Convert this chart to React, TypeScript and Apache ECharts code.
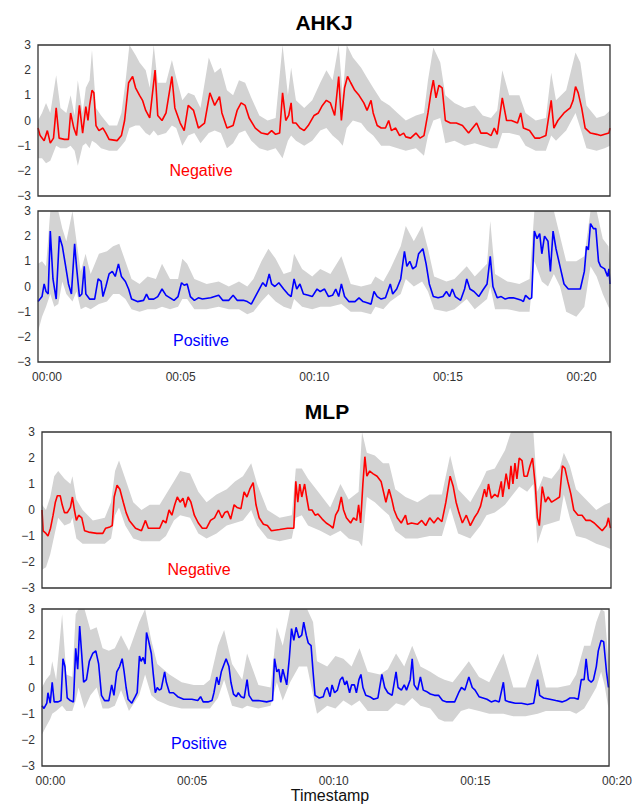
import React, { useEffect, useRef } from "react";
import * as echarts from "echarts";

// Times (minutes) were read relative to the printed "00:00" label; the
// plotted frame starts a little before it, so each panel has its own start.
const ahkjStart = -0.34;
const mlpStart = -0.3;

// ---------- AHKJ · Negative ----------
const ahkjNegT = [
  -0.34, -0.26, -0.11, 0.01, 0.12, 0.24, 0.34, 0.45, 0.65, 0.8,
  0.88, 1.0, 1.1, 1.21, 1.33, 1.45, 1.53, 1.59, 1.68, 1.75,
  1.83, 1.94, 2.09, 2.2, 2.32, 2.62, 2.78, 2.9, 3.05, 3.2,
  3.31, 3.46, 3.57, 3.69, 3.84, 4.04, 4.14, 4.3, 4.45, 4.67,
  4.78, 4.98, 5.13, 5.28, 5.48, 5.66, 5.89, 6.09, 6.27, 6.45,
  6.54, 6.73, 6.96, 7.11, 7.26, 7.41, 7.56, 7.79, 8.02, 8.25,
  8.4, 8.55, 8.7, 8.81, 8.93, 9.04, 9.13, 9.19, 9.31, 9.46,
  9.62, 9.77, 9.99, 10.15, 10.3, 10.45, 10.6, 10.76, 10.91, 11.01,
  11.13, 11.24, 11.36, 11.51, 11.67, 11.85, 11.97, 12.12, 12.2, 12.35,
  12.5, 12.66, 12.78, 12.88, 13.04, 13.19, 13.34, 13.42, 13.6, 13.8,
  13.95, 14.1, 14.25, 14.36, 14.45, 14.55, 14.66, 14.78, 14.9, 15.09,
  15.31, 15.54, 15.77, 15.92, 16.07, 16.23, 16.46, 16.61, 16.73, 16.84,
  17.03, 17.19, 17.37, 17.6, 17.72, 17.82, 18.05, 18.25, 18.43, 18.66,
  18.86, 18.96, 19.11, 19.34, 19.57, 19.68, 19.77, 19.87, 20.0, 20.13,
  20.33, 20.56, 20.71, 20.86, 21.02, 21.06,
];
const ahkjNegV = [
  -0.3, -0.6, -0.8, -0.4, -0.9, -0.7, 0.5, -0.7, -0.75, -0.75,
  0.3, -0.3, -0.6, 0.6, -0.5, 0.55, 0.0, 0.6, 1.2, 1.1,
  -0.2, -0.4, -0.3, -0.5, -0.75, -0.8, -0.6, 0.0, 1.5, 1.75,
  1.3, 1.0, 0.8, 0.4, 0.1, 2.0, 0.2, 0.0, 0.3, 1.75,
  0.5, -0.1, -0.4, 0.6, 0.4, -0.3, -0.1, 1.1, 0.6, 0.95,
  0.3, -0.3, -0.2, 0.4, 0.7, 0.6, 0.1, -0.3, -0.5, -0.55,
  -0.4, -0.55, -0.5, 1.1, 0.0, 0.2, 0.7, -0.1, -0.1, -0.3,
  -0.4, -0.2, 0.2, 0.3, 0.6, 0.8, 0.7, 0.2, 1.75, 0.0,
  1.3, 1.75, 1.5, 1.2, 1.0, 0.7, 0.4, 0.8, 0.3, -0.2,
  -0.3, -0.3, 0.0, -0.4, -0.3, -0.6, -0.5, -0.65, -0.7, -0.5,
  -0.7, -0.6, 0.3, 1.1, 1.6, 0.9, 1.4, 1.3, 0.0, -0.1,
  -0.1, -0.2, -0.5, -0.3, -0.1, -0.5, -0.5, -0.6, -0.3, -0.55,
  0.9, 0.0, 0.0, -0.1, 0.3, -0.3, -0.4, -0.7, -0.7, -0.6,
  0.8, -0.3, 0.0, 0.3, 0.5, 0.8, 1.35, 1.1, 0.5, -0.3,
  -0.5, -0.55, -0.6, -0.55, -0.5, -0.3,
];
const ahkjNegBandT = [
  -0.34, -0.19, -0.04, 0.12, 0.34, 0.5, 0.72, 0.88, 1.03, 1.15,
  1.33, 1.45, 1.59, 1.68, 1.83, 2.02, 2.32, 2.62, 2.78, 2.93,
  3.08, 3.31, 3.46, 3.69, 3.84, 3.99, 4.14, 4.45, 4.67, 4.83,
  5.06, 5.28, 5.51, 5.74, 6.05, 6.27, 6.5, 6.73, 6.96, 7.18,
  7.41, 7.64, 7.94, 8.25, 8.55, 8.81, 9.01, 9.13, 9.31, 9.62,
  9.92, 10.22, 10.45, 10.68, 10.91, 11.06, 11.21, 11.44, 11.75, 11.97,
  12.2, 12.5, 12.81, 13.11, 13.42, 13.8, 14.1, 14.25, 14.45, 14.71,
  14.9, 15.24, 15.62, 16.0, 16.3, 16.61, 16.84, 17.03, 17.29, 17.67,
  17.9, 18.28, 18.66, 18.86, 19.04, 19.42, 19.77, 19.95, 20.18, 20.56,
  20.86, 21.06,
];
const ahkjNegLo = [
  -1.5, -1.5, -1.7, -1.6, -1.0, -1.1, -1.1, -1.0, -1.2, -1.8,
  -1.0, -0.9, -1.1, -0.8, -0.9, -1.1, -1.2, -1.2, -1.0, -0.8,
  -0.3, -0.2, -0.2, -0.5, -0.6, -0.4, -0.6, -0.5, -0.2, -0.3,
  -1.0, -0.6, -0.5, -0.9, -0.5, -0.4, -0.5, -1.1, -0.9, -0.5,
  -0.4, -0.8, -1.1, -1.2, -1.1, -1.5, -0.8, -0.6, -0.8, -1.0,
  -0.8, -0.4, -0.3, -0.6, -0.8, -1.0, -0.3, 0.0, -0.1, -0.4,
  -0.6, -1.0, -1.0, -1.1, -1.2, -1.1, -1.4, -0.6, 0.0, 0.1,
  -0.9, -0.8, -1.0, -0.9, -1.0, -1.1, -1.1, -0.5, -0.5, -0.6,
  -1.0, -1.2, -1.2, -0.6, -0.8, -0.4, 0.3, -0.3, -1.1, -1.2,
  -1.1, -1.0,
];
const ahkjNegHi = [
  0.0, 0.3, 0.7, 0.3, 1.8, 0.5, 0.3, 1.0, 0.2, 1.6,
  0.3, 1.3, 1.6, 2.8, 0.5, 0.2, -0.2, -0.2, 0.3, 1.5,
  3.0, 2.6, 2.3, 2.0, 1.3, 3.0, 1.5, 1.5, 2.4, 1.7,
  0.8, 1.1, 1.0, 0.5, 2.5, 1.9, 2.1, 1.2, 1.0, 1.6,
  1.5, 0.9, 0.2, 0.0, 0.1, 3.0, 1.0, 2.1, 0.8, 0.5,
  0.8, 1.5, 2.0, 1.6, 3.0, 1.0, 3.0, 2.5, 2.1, 1.7,
  1.3, 0.8, 0.6, 0.3, 0.0, 0.2, 0.3, 1.6, 2.9, 2.3,
  1.0, 0.7, 0.5, 0.6, 0.2, 0.1, 0.4, 2.0, 1.0, 1.0,
  0.3, 0.0, 0.1, 1.9, 0.8, 1.2, 2.7, 2.3, 0.6, 0.1,
  0.2, 0.4,
];

// ---------- AHKJ · Positive ----------
const ahkjPosT = [
  -0.34, -0.19, -0.11, -0.04, 0.04, 0.12, 0.22, 0.34, 0.46, 0.57,
  0.68, 0.8, 0.91, 1.03, 1.1, 1.21, 1.3, 1.39, 1.45, 1.59,
  1.78, 1.91, 2.02, 2.09, 2.2, 2.32, 2.44, 2.55, 2.67, 2.78,
  2.93, 3.05, 3.16, 3.38, 3.61, 3.72, 3.81, 3.99, 4.14, 4.3,
  4.45, 4.6, 4.75, 4.9, 5.03, 5.13, 5.24, 5.36, 5.51, 5.66,
  5.81, 6.12, 6.42, 6.57, 6.8, 6.96, 7.11, 7.34, 7.49, 7.64,
  7.79, 7.94, 8.07, 8.19, 8.31, 8.4, 8.52, 8.67, 8.85, 9.01,
  9.13, 9.24, 9.34, 9.46, 9.59, 9.77, 9.92, 10.1, 10.22, 10.38,
  10.53, 10.68, 10.8, 10.91, 11.01, 11.13, 11.29, 11.52, 11.67, 11.82,
  11.97, 12.12, 12.23, 12.35, 12.5, 12.66, 12.84, 12.93, 13.08, 13.23,
  13.37, 13.46, 13.57, 13.68, 13.8, 13.9, 14.06, 14.18, 14.3, 14.45,
  14.63, 14.81, 14.94, 15.06, 15.16, 15.27, 15.47, 15.62, 15.7, 15.82,
  15.97, 16.15, 16.3, 16.46, 16.58, 16.68, 16.84, 16.99, 17.14, 17.29,
  17.44, 17.6, 17.75, 17.82, 17.9, 18.05, 18.13, 18.23, 18.33, 18.43,
  18.51, 18.61, 18.74, 18.83, 18.93, 19.04, 19.19, 19.34, 19.5, 19.72,
  19.95, 20.1, 20.18, 20.25, 20.33, 20.44, 20.53, 20.63, 20.71, 20.86,
  20.97, 21.02, 21.06,
];
const ahkjPosV = [
  -0.6, -0.4, 0.1, -0.2, -0.3, 2.2, 0.3, -0.5, 2.0, 1.6,
  0.9, 0.1, -0.3, 1.7, 0.8, -0.4, -0.3, 0.8, -0.3, -0.5,
  -0.5, 0.3, 0.2, -0.4, 0.0, 0.5, 0.6, 0.4, 0.9, 0.4,
  0.2, -0.1, -0.5, -0.6, -0.55, -0.3, -0.5, -0.5, -0.4, -0.1,
  -0.35, -0.45, -0.55, -0.4, 0.15, 0.05, 0.1, -0.4, -0.55, -0.45,
  -0.5, -0.45, -0.35, -0.55, -0.55, -0.35, -0.55, -0.55, -0.6, -0.7,
  -0.4, -0.1, 0.15, 0.0, 0.5, 0.1, 0.0, 0.15, -0.1, -0.3,
  -0.4, 0.3, -0.1, 0.1, -0.3, -0.35, -0.4, -0.1, -0.2, -0.1,
  -0.4, -0.35, -0.1, -0.4, 0.1, -0.4, -0.6, -0.6, -0.45, -0.6,
  -0.65, -0.7, -0.2, -0.4, -0.5, -0.45, 0.1, -0.3, -0.1, 0.3,
  1.4, 0.8, 1.0, 0.7, 0.8, 1.3, 1.5, 0.9, 0.1, -0.4,
  -0.45, -0.4, -0.2, -0.4, -0.1, -0.4, -0.55, -0.1, 0.3, -0.1,
  -0.2, -0.4, -0.15, 0.1, 1.2, 0.0, -0.45, -0.4, -0.5, -0.45,
  -0.45, -0.5, -0.55, -0.6, -0.35, -0.5, -0.45, 2.2, 1.9, 2.1,
  1.3, 2.0, 1.8, 0.6, 2.2, 1.5, 0.8, 0.1, -0.1, -0.1,
  -0.1, 0.6, 1.6, 1.45, 2.5, 2.3, 2.3, 1.0, 0.8, 0.7,
  0.4, 0.7, 0.1,
];
const ahkjPosBandT = [
  -0.34, -0.19, -0.04, 0.12, 0.27, 0.42, 0.57, 0.72, 0.95, 1.1,
  1.26, 1.44, 1.63, 1.94, 2.24, 2.47, 2.7, 2.93, 3.16, 3.46,
  3.76, 4.07, 4.3, 4.6, 4.9, 5.06, 5.24, 5.51, 5.97, 6.42,
  6.8, 7.18, 7.49, 7.72, 8.02, 8.28, 8.55, 8.85, 9.13, 9.24,
  9.54, 9.92, 10.22, 10.6, 11.01, 11.36, 11.75, 12.12, 12.28, 12.58,
  12.84, 13.23, 13.42, 13.72, 14.03, 14.25, 14.48, 14.94, 15.24, 15.7,
  16.0, 16.46, 16.58, 16.76, 17.22, 17.67, 18.05, 18.23, 18.51, 18.74,
  18.96, 19.19, 19.42, 19.8, 20.1, 20.33, 20.56, 20.79, 21.0, 21.06,
];
const ahkjPosLo = [
  -1.8, -1.2, -0.8, -0.3, -0.8, -0.7, 0.2, -0.3, -0.6, -0.2,
  -0.9, -0.8, -0.9, -0.7, -0.6, -0.3, -0.3, -0.5, -0.9, -1.0,
  -0.9, -0.9, -0.8, -0.9, -0.8, -0.5, -0.5, -0.9, -0.9, -0.8,
  -0.9, -0.9, -1.1, -1.0, -0.6, -0.3, -0.6, -0.8, -0.9, -0.5,
  -0.8, -0.9, -0.8, -0.8, -0.7, -1.0, -1.0, -1.1, -0.8, -0.9,
  -0.6, -0.3, 0.3, 0.0, 0.2, -0.2, -0.9, -1.0, -0.9, -0.5,
  -0.9, -0.5, 0.0, -0.9, -0.9, -1.0, -1.0, 1.0, 0.2, 0.0,
  0.5, 0.0, -1.0, -1.2, -0.8, 0.8, 0.4, -0.3, -0.8, -0.9,
];
const ahkjPosHi = [
  0.9, 1.0, 0.8, 3.0, 3.0, 3.0, 2.3, 1.8, 3.0, 1.8,
  0.6, 1.3, 0.5, 1.3, 1.4, 1.6, 1.7, 1.0, 0.3, 0.1,
  0.4, 0.3, 0.9, 0.3, 0.3, 1.1, 0.9, 0.3, 0.1, 0.2,
  0.0, 0.2, 0.0, 0.3, 1.0, 1.5, 1.1, 0.5, 0.6, 1.3,
  0.7, 0.4, 0.7, 0.5, 1.2, 0.1, 0.0, 0.1, 0.4, 0.2,
  0.7, 1.6, 2.4, 1.8, 2.4, 1.5, 0.4, 0.2, 0.3, 0.8,
  0.4, 0.9, 2.6, 0.5, 0.2, 0.1, 0.3, 3.0, 3.0, 3.0,
  3.0, 2.0, 1.0, 1.0, 1.2, 3.0, 3.0, 1.9, 1.6, 0.8,
];

// ---------- MLP · Negative ----------
const mlpNegT = [
  -0.3, -0.26, -0.16, -0.09, 0.0, 0.09, 0.17, 0.24, 0.34, 0.41,
  0.49, 0.59, 0.7, 0.77, 0.84, 0.91, 0.99, 1.1, 1.2, 1.34,
  1.63, 1.84, 1.94, 2.09, 2.17, 2.24, 2.34, 2.44, 2.56, 2.66,
  2.77, 2.99, 3.2, 3.34, 3.44, 3.63, 3.84, 3.96, 4.06, 4.17,
  4.27, 4.37, 4.46, 4.56, 4.66, 4.74, 4.84, 4.94, 5.06, 5.2,
  5.34, 5.49, 5.63, 5.77, 5.91, 6.03, 6.13, 6.23, 6.34, 6.46,
  6.56, 6.7, 6.81, 6.91, 7.01, 7.13, 7.23, 7.34, 7.49, 7.63,
  7.77, 8.06, 8.34, 8.56, 8.63, 8.7, 8.77, 8.84, 8.94, 9.01,
  9.09, 9.2, 9.31, 9.41, 9.56, 9.7, 9.84, 9.94, 10.03, 10.13,
  10.23, 10.31, 10.41, 10.56, 10.66, 10.77, 10.84, 10.91, 10.99, 11.06,
  11.13, 11.23, 11.34, 11.49, 11.63, 11.8, 11.91, 12.01, 12.09, 12.2,
  12.34, 12.49, 12.56, 12.7, 12.91, 13.06, 13.2, 13.34, 13.49, 13.63,
  13.77, 13.91, 14.06, 14.17, 14.27, 14.37, 14.49, 14.63, 14.77, 14.91,
  15.03, 15.13, 15.27, 15.34, 15.41, 15.51, 15.63, 15.74, 15.86, 15.91,
  16.03, 16.13, 16.2, 16.27, 16.34, 16.41, 16.49, 16.59, 16.66, 16.77,
  16.87, 16.96, 17.06, 17.13, 17.2, 17.3, 17.41, 17.51, 17.63, 17.77,
  17.91, 18.01, 18.1, 18.2, 18.31, 18.41, 18.56, 18.7, 18.84, 18.99,
  19.13, 19.27, 19.41, 19.56, 19.63, 19.7,
];
const mlpNegV = [
  0.0, -0.8, -0.9, -1.0, -0.7, -0.2, 0.3, 0.55, 0.55, 0.2,
  -0.1, -0.1, 0.1, 0.5, 0.0, -0.4, -0.2, -0.3, -0.8, -0.85,
  -0.9, -0.9, -0.7, -0.65, -0.6, 0.5, 0.95, 0.8, 0.3, -0.1,
  -0.4, -0.7, -0.8, -0.4, -0.7, -0.7, -0.7, -0.4, -0.5, 0.0,
  -0.2, 0.2, 0.5, 0.3, 0.45, 0.1, 0.5, 0.3, -0.2, -0.5,
  -0.7, -0.7, -0.4, -0.3, 0.0, -0.3, -0.1, -0.05, -0.35, 0.2,
  0.1, 0.05, 0.7, 0.5, 0.8, 1.05, 0.2, -0.3, -0.55, -0.6,
  -0.8, -0.75, -0.7, -0.7, 1.1, 0.3, 1.0, 0.5, 1.0, 0.5,
  0.0, 0.0, -0.2, -0.15, -0.35, -0.5, -0.6, -0.7, -0.2, 0.0,
  0.5, 0.0, -0.3, -0.5, -0.3, -0.4, 0.2, -0.5, 1.0, 2.05,
  1.3, 1.5, 1.4, 1.3, 1.1, 0.3, 0.8, 0.4, 0.0, -0.3,
  -0.5, -0.2, -0.55, -0.5, -0.55, -0.4, -0.6, -0.3, -0.5, -0.3,
  -0.45, 0.3, 1.3, 0.9, 0.3, -0.1, -0.5, -0.2, -0.6, -0.3,
  -0.1, 0.15, 0.8, 0.5, 1.0, 0.45, 0.6, 0.5, 1.1, 0.5,
  1.4, 0.8, 1.7, 1.0, 1.8, 1.2, 2.0, 1.9, 1.3, 1.3,
  1.7, 2.0, 0.9, -0.3, -0.6, 0.9, 0.3, 0.5, 0.3, 0.4,
  0.5, 1.7, 1.6, 1.1, 0.6, 0.0, -0.2, -0.2, -0.4, -0.4,
  -0.5, -0.65, -0.8, -0.6, -0.3, -0.7,
];
const mlpNegBandT = [
  -0.3, -0.16, -0.01, 0.13, 0.27, 0.49, 0.7, 0.77, 0.91, 1.13,
  1.49, 1.91, 2.13, 2.27, 2.41, 2.63, 2.91, 3.2, 3.49, 3.84,
  4.06, 4.34, 4.56, 4.91, 5.2, 5.49, 5.84, 6.2, 6.49, 6.77,
  7.06, 7.27, 7.63, 8.06, 8.49, 8.63, 8.84, 9.06, 9.49, 9.84,
  10.2, 10.49, 10.84, 10.96, 11.13, 11.41, 11.7, 11.91, 12.13, 12.49,
  12.91, 13.34, 13.77, 14.06, 14.34, 14.77, 15.13, 15.34, 15.63, 15.99,
  16.2, 16.49, 16.77, 16.99, 17.13, 17.34, 17.63, 17.91, 18.06, 18.27,
  18.49, 18.84, 19.2, 19.49, 19.7,
];
const mlpNegLo = [
  -2.3, -2.2, -1.7, -1.0, -0.3, -0.6, -0.5, -0.3, -1.1, -1.3,
  -1.3, -1.3, -1.1, -0.2, 0.1, -0.6, -1.1, -1.2, -1.2, -1.2,
  -1.0, -0.4, -0.2, -0.3, -0.9, -1.1, -0.9, -0.6, -0.5, -0.4,
  0.0, -0.6, -1.1, -1.2, -1.1, -0.3, -0.2, -0.6, -0.8, -1.0,
  -0.8, -1.1, -1.2, -1.4, 0.5, 0.3, 0.0, -0.2, -0.8, -1.1,
  -1.1, -1.0, -1.0, 0.1, -0.9, -1.1, -0.6, -0.2, -0.1, 0.2,
  0.5, 0.9, 0.7, 1.0, -1.3, -0.6, -0.5, -0.4, 0.6, -0.3,
  -1.0, -1.1, -1.3, -1.4, -1.5,
];
const mlpNegHi = [
  0.2, 0.0, 0.5, 1.3, 1.5, 1.2, 1.0, 1.3, 0.4, 0.0,
  -0.4, -0.3, 0.3, 1.5, 1.9, 1.2, 0.3, 0.0, 0.2, 0.2,
  0.6, 1.1, 1.5, 1.4, 0.7, 0.3, 0.6, 0.8, 1.1, 1.3,
  1.8, 1.0, 0.0, -0.3, -0.2, 1.6, 1.6, 1.2, 0.6, 0.1,
  1.0, 0.4, 0.7, 3.0, 2.2, 2.1, 1.8, 1.8, 0.8, 0.5,
  0.3, 0.6, 0.6, 2.1, 0.8, 0.3, 1.0, 1.5, 1.6, 2.3,
  3.0, 3.0, 3.0, 3.0, 0.7, 1.3, 1.2, 1.6, 2.2, 1.7,
  0.8, 0.4, 0.0, 0.2, 0.3,
];

// ---------- MLP · Positive ----------
const mlpPosT = [
  -0.3, -0.23, -0.13, -0.09, -0.01, 0.06, 0.13, 0.27, 0.37, 0.44,
  0.51, 0.59, 0.7, 0.81, 0.89, 0.96, 1.03, 1.1, 1.17, 1.27,
  1.37, 1.49, 1.6, 1.7, 1.8, 1.91, 2.06, 2.16, 2.24, 2.34,
  2.44, 2.53, 2.6, 2.67, 2.74, 2.87, 2.99, 3.06, 3.14, 3.2,
  3.27, 3.34, 3.39, 3.46, 3.56, 3.63, 3.7, 3.77, 3.84, 3.91,
  4.03, 4.09, 4.2, 4.34, 4.49, 4.7, 4.99, 5.2, 5.3, 5.39,
  5.56, 5.7, 5.77, 5.87, 5.94, 6.03, 6.13, 6.2, 6.3, 6.37,
  6.46, 6.56, 6.63, 6.73, 6.84, 6.94, 7.01, 7.13, 7.34, 7.63,
  7.84, 7.91, 7.99, 8.06, 8.13, 8.2, 8.27, 8.34, 8.43, 8.51,
  8.59, 8.67, 8.77, 8.87, 8.94, 9.03, 9.1, 9.2, 9.27, 9.34,
  9.49, 9.63, 9.7, 9.77, 9.87, 9.94, 10.03, 10.13, 10.23, 10.31,
  10.39, 10.46, 10.56, 10.63, 10.73, 10.8, 10.89, 10.96, 11.03, 11.13,
  11.27, 11.41, 11.56, 11.7, 11.8, 11.91, 12.06, 12.2, 12.27, 12.39,
  12.49, 12.57, 12.7, 12.77, 12.84, 12.96, 13.06, 13.16, 13.27, 13.41,
  13.56, 13.7, 13.84, 13.99, 14.13, 14.27, 14.41, 14.51, 14.63, 14.77,
  14.89, 14.99, 15.13, 15.27, 15.41, 15.56, 15.7, 15.84, 15.99, 16.06,
  16.2, 16.41, 16.63, 16.84, 17.06, 17.2, 17.27, 17.41, 17.63, 17.84,
  18.06, 18.2, 18.34, 18.49, 18.63, 18.74, 18.84, 18.91, 18.99, 19.09,
  19.17, 19.27, 19.34, 19.44, 19.53, 19.63, 19.7,
];
const mlpPosV = [
  -0.7, -0.8, -0.6, -0.2, -0.6, 0.2, -0.55, -0.55, -0.5, 1.1,
  0.8, -0.4, -0.5, -0.55, 1.5, 0.7, 2.35, 1.3, 0.2, 0.3,
  1.0, 1.3, 1.4, 0.9, -0.3, -0.5, -0.5, 0.1, -0.3, 0.6,
  0.8, 1.1, 0.6, 0.0, -0.45, -0.6, -0.35, -0.2, 1.2, 1.0,
  1.15, 0.9, 2.1, 1.8, 1.3, 0.5, -0.2, 0.0, -0.1, -0.05,
  0.6, 0.2, -0.2, -0.2, -0.35, -0.45, -0.45, -0.5, -0.35, -0.55,
  -0.55, -0.5, -0.2, 0.4, 0.1, 0.6, 0.9, 1.1, 0.8, 0.2,
  -0.25, -0.35, -0.2, -0.35, -0.4, 0.3, -0.3, -0.5, -0.5, -0.55,
  -0.5, 1.1, 0.6, 0.7, 0.2, 0.7, 0.4, 0.1, 1.1, 2.25,
  1.8, 2.3, 1.9, 2.0, 2.5, 2.0, 1.7, 1.6, 0.6, -0.3,
  -0.4, -0.35, -0.1, 0.0, -0.35, 0.1, -0.2, -0.1, 0.3, 0.4,
  0.1, 0.25, -0.2, 0.1, 0.1, -0.2, 0.3, 0.5, 0.0, -0.3,
  -0.35, -0.45, -0.4, 0.5, 0.0, -0.2, -0.3, 0.6, 0.0, -0.1,
  0.1, -0.1, 0.3, 1.1, 0.1, -0.1, 0.4, -0.1, -0.15, -0.25,
  -0.3, -0.3, -0.5, -0.55, -0.55, -0.55, -0.2, 0.0, -0.1, 0.4,
  0.0, -0.1, -0.35, -0.4, -0.45, -0.55, -0.5, -0.55, 0.2, -0.5,
  -0.55, -0.6, -0.6, -0.65, -0.6, 0.3, -0.3, -0.4, -0.45, -0.5,
  -0.55, -0.5, -0.4, -0.4, -0.45, 0.3, 0.3, 1.1, 0.3, 0.2,
  0.3, 0.8, 1.4, 1.8, 1.75, 0.6, 0.0,
];
const mlpPosBandT = [
  -0.3, -0.16, -0.01, 0.06, 0.2, 0.41, 0.56, 0.77, 0.89, 0.99,
  1.2, 1.41, 1.63, 1.84, 2.06, 2.27, 2.49, 2.77, 3.13, 3.34,
  3.56, 3.77, 4.2, 4.63, 5.06, 5.41, 5.63, 5.91, 6.13, 6.41,
  6.77, 6.94, 7.34, 7.77, 7.99, 8.2, 8.46, 8.77, 9.06, 9.27,
  9.41, 9.77, 10.06, 10.34, 10.63, 10.91, 11.2, 11.63, 11.91, 12.2,
  12.49, 12.77, 13.06, 13.41, 13.7, 13.91, 14.2, 14.49, 14.77, 15.13,
  15.49, 15.99, 16.34, 16.77, 17.2, 17.49, 17.91, 18.34, 18.56, 18.84,
  19.06, 19.27, 19.44, 19.56, 19.7,
];
const mlpPosLo = [
  -1.8, -1.5, -1.2, -1.0, -0.9, -0.7, -0.9, -0.9, -0.5, 0.0,
  -0.8, -0.3, 0.0, -0.8, -0.8, -0.7, -0.1, -0.9, -0.3, 0.5,
  -0.3, -0.5, -0.7, -0.8, -0.8, -0.8, -0.8, -0.4, 0.3, -0.7,
  -0.8, -0.7, -0.8, -0.7, 0.2, -0.5, 0.2, 0.8, 0.8, -0.3,
  -1.0, -0.7, -0.8, -0.5, -0.7, -0.5, -0.9, -0.9, -0.9, -0.6,
  -0.7, -0.4, -0.7, -0.8, -1.2, -1.3, -1.3, -0.9, -0.8, -0.9,
  -1.0, -1.0, -1.1, -1.1, -1.0, -0.9, -0.9, -0.9, -1.0, -0.8,
  -0.4, 0.0, 0.6, 0.1, -0.8,
];
const mlpPosHi = [
  0.0, 0.3, 0.5, 1.0, 0.3, 2.8, 0.5, 0.4, 2.8, 3.0,
  3.0, 2.2, 2.3, 1.5, 1.4, 1.5, 2.0, 1.4, 2.5, 3.0,
  1.8, 0.9, 0.5, 0.2, 0.1, 0.1, 0.3, 1.6, 2.2, 0.9,
  0.3, 1.3, 0.1, 0.0, 2.3, 1.6, 3.0, 3.0, 3.0, 2.5,
  1.0, 0.8, 1.2, 1.1, 0.8, 1.5, 0.6, 0.5, 0.7, 1.3,
  0.8, 1.6, 0.8, 0.6, 0.4, 0.3, 0.2, 0.6, 1.0, 0.4,
  0.2, 1.3, 0.0, 0.0, 1.3, 0.0, 0.0, 0.1, 0.5, 1.6,
  1.6, 2.5, 3.0, 2.9, 1.0,
];

const xTickValues = [0, 5, 10, 15, 20];
const yTickValues = [-3, -2, -1, 0, 1, 2, 3];

const FONT = "'Liberation Sans', Arial, Helvetica, sans-serif";
const BAND = "#d3d3d3";

// Each panel: the frame spans [start, end] in the shifted axis frame where the
// frame's left edge is 0; the labels sit a few pixels right of their ticks.
const panels = [
  { t: ahkjNegT, v: ahkjNegV, bt: ahkjNegBandT, lo: ahkjNegLo, hi: ahkjNegHi, color: "#ff0000", start: ahkjStart, span: 21.4, labels: false, labelPad: 18,
    grid: { left: 38, top: 45, width: 572, height: 151 } },
  { t: ahkjPosT, v: ahkjPosV, bt: ahkjPosBandT, lo: ahkjPosLo, hi: ahkjPosHi, color: "#0000ff", start: ahkjStart, span: 21.4, labels: true, labelPad: 18,
    grid: { left: 38, top: 211, width: 572, height: 151 } },
  { t: mlpNegT, v: mlpNegV, bt: mlpNegBandT, lo: mlpNegLo, hi: mlpNegHi, color: "#ff0000", start: mlpStart, span: 20.02, labels: false, labelPad: 17,
    grid: { left: 42, top: 432, width: 569, height: 156 } },
  { t: mlpPosT, v: mlpPosV, bt: mlpPosBandT, lo: mlpPosLo, hi: mlpPosHi, color: "#0000ff", start: mlpStart, span: 20.02, labels: true, labelPad: 17,
    grid: { left: 42, top: 609, width: 569, height: 157 } },
];

const fmtX = (v: number) => "00:" + String(Math.round(v)).padStart(2, "0");
const fmtY = (v: number) => (v < 0 ? "\u2212" + Math.abs(v) : String(v));

export default function App() {
  const ref = useRef<HTMLDivElement>(null);
  useEffect(() => {
    if (!ref.current) return;
    const chart = echarts.init(ref.current, null, { renderer: "svg", width: 635, height: 810 });

    const grids = panels.map((p) => ({
      ...p.grid,
      show: true,
      z: 10,
      backgroundColor: "transparent",
      borderColor: "#333333",
      borderWidth: 1.3,
      containLabel: false,
    }));
    const xAxes = panels.map((p, i) => ({
      type: "value",
      gridIndex: i,
      min: 0,
      max: p.span,
      axisLine: { show: false },
      axisTick: { show: false },
      splitLine: { show: false },
      axisLabel: {
        show: p.labels,
        customValues: xTickValues,
        formatter: fmtX,
        color: "#333333",
        fontSize: 12,
        fontFamily: FONT,
        margin: 9,
        padding: [0, 0, 0, p.labelPad],
      },
    }));
    const yAxes = panels.map((p, i) => ({
      type: "value",
      gridIndex: i,
      min: -3,
      max: 3,
      interval: 1,
      axisLine: { show: false },
      axisTick: { show: false },
      splitLine: { show: false },
      axisLabel: {
        customValues: yTickValues,
        formatter: fmtY,
        color: "#333333",
        fontSize: 12,
        fontFamily: FONT,
        margin: 7,
      },
    }));
    const series: any[] = [];
    panels.forEach((p, i) => {
      const sx = (t: number) => t - p.start;
      series.push({
        type: "custom",
        xAxisIndex: i,
        yAxisIndex: i,
        silent: true,
        z: 1,
        clip: true,
        data: p.bt.map((t, k) => [sx(t), p.lo[k], p.hi[k]]),
        encode: { x: 0, y: [1, 2] },
        renderItem: (params: any, api: any) => {
          if (params.dataIndex !== 0) return null;
          const pts: number[][] = [];
          for (let k = 0; k < p.bt.length; k++) pts.push(api.coord([sx(p.bt[k]), p.hi[k]]));
          for (let k = p.bt.length - 1; k >= 0; k--) pts.push(api.coord([sx(p.bt[k]), p.lo[k]]));
          return { type: "polygon", shape: { points: pts }, style: { fill: BAND, stroke: null } };
        },
      });
      series.push({
        type: "line",
        xAxisIndex: i,
        yAxisIndex: i,
        data: p.t.map((t, k) => [sx(t), p.v[k]]),
        showSymbol: false,
        symbol: "none",
        silent: true,
        clip: true,
        z: 3,
        lineStyle: { color: p.color, width: 1.6 },
        itemStyle: { color: p.color },
      });
    });

    const txt = (x: number, y: number, text: string, extra: any) => ({
      type: "text",
      x,
      y,
      z: 20,
      style: { text, textAlign: "center", textVerticalAlign: "middle", fontFamily: FONT, ...extra },
    });

    chart.setOption({
      animation: false,
      backgroundColor: "#ffffff",
      grid: grids,
      xAxis: xAxes,
      yAxis: yAxes,
      series,
      graphic: [
        txt(324, 22, "AHKJ", { fontSize: 21, fontWeight: "bold", fill: "#000" }),
        txt(327, 411, "MLP", { fontSize: 21, fontWeight: "bold", fill: "#000" }),
        txt(330, 795, "Timestamp", { fontSize: 16, fill: "#111" }),
        txt(201, 170, "Negative", { fontSize: 16, fill: "#ff0000" }),
        txt(201, 340, "Positive", { fontSize: 16, fill: "#0000ff" }),
        txt(199, 569, "Negative", { fontSize: 16, fill: "#ff0000" }),
        txt(199, 743, "Positive", { fontSize: 16, fill: "#0000ff" }),
      ],
    });
    return () => chart.dispose();
  }, []);
  return <div ref={ref} style={{ position: "fixed", left: 0, top: 0, width: 635, height: 810 }} />;
}
